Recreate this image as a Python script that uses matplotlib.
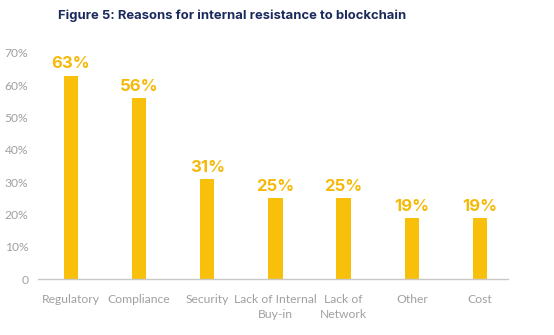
import matplotlib
matplotlib.use("Agg")
import matplotlib.pyplot as plt

categories = ["Regulatory", "Compliance", "Security", "Lack of Internal\nBuy-in",
              "Lack of\nNetwork", "Other", "Cost"]
values = [63, 56, 31, 25, 25, 19, 19]
y_ticks = [0, 10, 20, 30, 40, 50, 60, 70]
y_tick_labels = ["0", "10%", "20%", "30%", "40%", "50%", "60%", "70%"]

bar_color = "#F8C00B"
label_color = "#F5B90A"
title_color = "#1B2A5C"
tick_color = "#A0A0A0"

plt.rcParams["font.family"] = ["Lato", "DejaVu Sans"]

fig = plt.figure(figsize=(5.54, 3.35), dpi=100)
ax = fig.add_axes([0.0686, 0.167, 0.8484, 0.675])

x = list(range(len(categories)))
ax.bar(x, values, width=0.21, color=bar_color, zorder=2)

for xi, v in zip(x, values):
    ax.annotate(f"{v}%", (xi, v), xytext=(0, 3), textcoords="offset points",
                ha="center", va="bottom", fontsize=12, fontweight="bold",
                color=label_color, family=["Inter", "DejaVu Sans"])

ax.set_ylim(0, 70)
ax.set_xlim(-0.48, 6.41)
ax.set_yticks(y_ticks)
ax.set_yticklabels(y_tick_labels)
ax.set_xticks(x)
ax.set_xticklabels(categories, linespacing=1.4)
ax.tick_params(axis="both", length=0, colors=tick_color, labelsize=8.7)
ax.tick_params(axis="x", pad=11)
ax.tick_params(axis="y", pad=7)

for side in ["top", "right", "left"]:
    ax.spines[side].set_visible(False)
ax.spines["bottom"].set_color("#C8C8C8")
ax.spines["bottom"].set_linewidth(1.0)

fig.text(0.105, 0.953, "Figure 5: Reasons for internal resistance to blockchain",
         ha="left", va="center", fontsize=9.4, fontweight="bold", color=title_color,
         family=["Inter", "DejaVu Sans"])

fig.savefig("out.png", dpi=100, facecolor="white")
